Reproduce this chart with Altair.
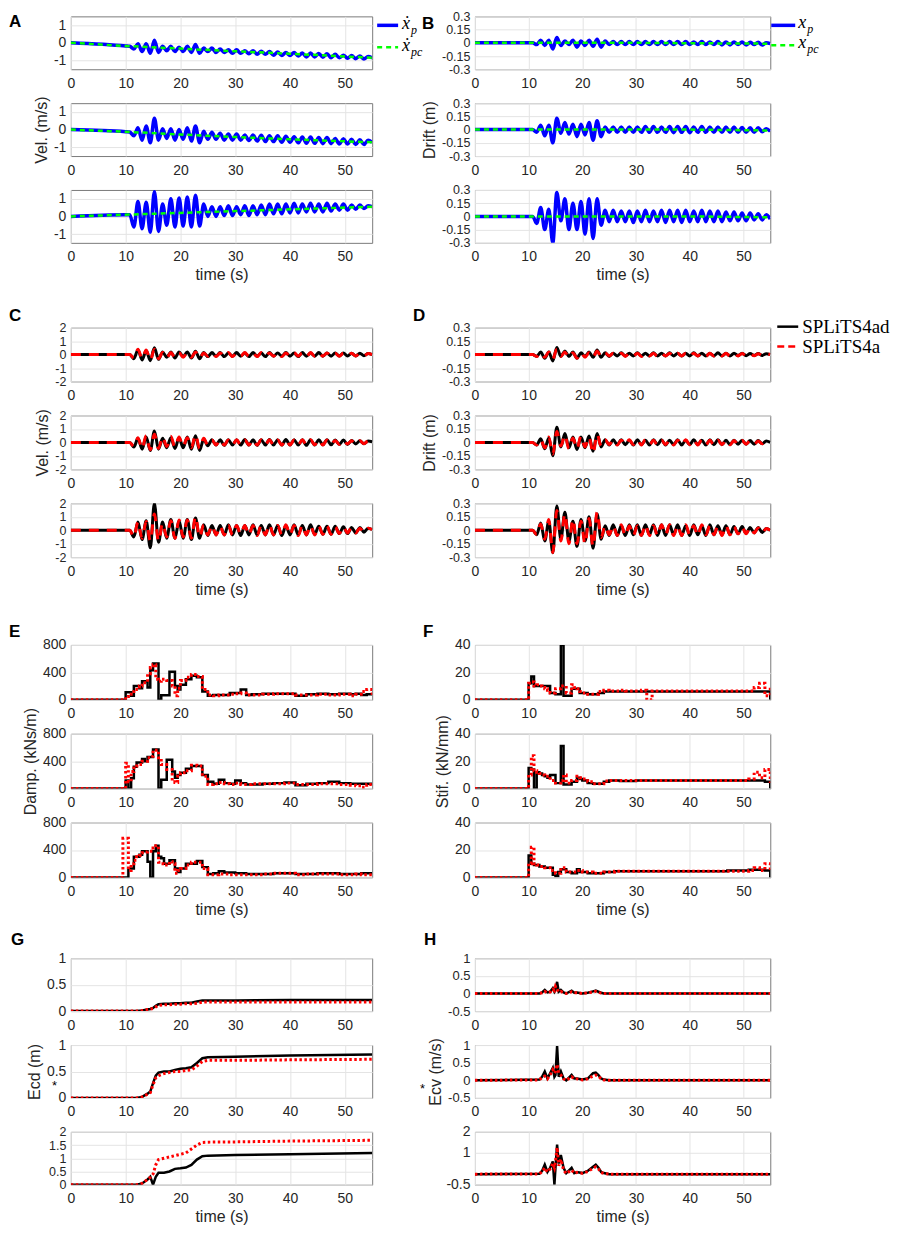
import altair as alt
import pandas as pd

# ---------------- time grids ----------------
t_osc = [0, 10, 10.75, 11.5, 12.25, 13.0, 13.75, 14.5, 15.25, 16.0, 16.75, 17.5,
         18.25, 19.0, 19.75, 20.5, 21.25, 22.0, 22.75, 23.5, 24.25, 25.0,
         25.75, 26.5, 27.25, 28.0, 28.75, 29.5, 30.25, 31.0, 31.75, 32.5,
         33.25, 34.0, 34.75, 35.5, 36.25, 37.0, 37.75, 38.5, 39.25, 40.0,
         40.75, 41.5, 42.25, 43.0, 43.75, 44.5, 45.25, 46.0, 46.75, 47.5,
         48.25, 49.0, 49.75, 50.5, 51.25, 52.0, 52.75, 53.5, 54.25, 55.0]
t_trend = [0, 10, 20, 30, 40, 55]
t_step = [0, 9.5, 10, 10.5, 11, 11.5, 12, 12.5, 13, 13.5, 14, 14.5, 15, 15.5, 16, 16.5,
          17, 17.5, 18, 18.5, 19, 19.5, 20, 21, 22, 23, 24, 25, 26, 27, 28, 29, 30, 31,
          32, 33, 35, 37, 39, 41, 43, 45, 47, 49, 51, 52, 53, 54, 55]
t_g = [0, 12, 13, 14, 14.5, 15, 15.5, 16, 17, 18, 19, 20, 21, 22, 23, 24, 25, 30, 40, 55]
t_h = [0, 12, 12.5, 13, 13.5, 14, 14.5, 14.8, 15, 15.3, 15.6, 16, 16.5, 17, 18, 18.5,
       19, 20, 21, 22, 22.5, 23, 23.5, 24, 25, 55]

x_ticks = [0, 10, 20, 30, 40, 50]

# ---------------- A: velocity (xp dot, xpc dot) ----------------
a1_xp = [0, -0.18,
         -0.2, -0.35, -0.05, -0.5, -0.05, -0.6, 0.15, -0.55, -0.2, -0.45,
         -0.2, -0.5, -0.25, -0.5, -0.2, -0.55, -0.1, -0.6, -0.3, -0.5,
         -0.3, -0.55, -0.35, -0.55, -0.4, -0.6, -0.4, -0.6, -0.45, -0.62,
         -0.45, -0.65, -0.48, -0.65, -0.5, -0.7, -0.52, -0.72, -0.55, -0.72,
         -0.55, -0.75, -0.58, -0.8, -0.58, -0.8, -0.6, -0.82, -0.62, -0.85,
         -0.65, -0.85, -0.7, -0.88, -0.72, -0.9, -0.75, -0.92, -0.78, -0.85]
a2_xp = [0, -0.12,
         -0.14, -0.35, 0.1, -0.6, 0.2, -0.75, 0.65, -0.6, 0.05, -0.5,
         0.05, -0.6, 0.0, -0.55, 0.1, -0.65, 0.2, -0.75, -0.1, -0.55,
         -0.15, -0.55, -0.2, -0.6, -0.25, -0.6, -0.25, -0.6, -0.3, -0.62,
         -0.3, -0.65, -0.32, -0.68, -0.35, -0.68, -0.35, -0.72, -0.38, -0.72,
         -0.4, -0.75, -0.42, -0.78, -0.42, -0.78, -0.45, -0.8, -0.45, -0.8,
         -0.5, -0.82, -0.52, -0.82, -0.55, -0.85, -0.58, -0.85, -0.6, -0.72]
a3_xp = [0, 0.1,
         0.1, -0.6, 0.85, -0.7, 0.8, -0.9, 1.4, -0.85, 0.7, -0.5,
         1.0, -0.6, 1.05, -0.55, 1.1, -0.6, 1.2, -0.55, 0.7, 0.0,
         0.55, 0.0, 0.55, 0.05, 0.6, 0.05, 0.55, 0.1, 0.6, 0.05,
         0.6, 0.1, 0.65, 0.1, 0.7, 0.15, 0.7, 0.15, 0.7, 0.2,
         0.75, 0.2, 0.7, 0.25, 0.75, 0.25, 0.7, 0.25, 0.75, 0.3,
         0.7, 0.35, 0.7, 0.35, 0.65, 0.4, 0.65, 0.45, 0.6, 0.55]
a1_xpc = [0, -0.18, -0.33, -0.48, -0.62, -0.85]
a2_xpc = [0, -0.12, -0.28, -0.42, -0.55, -0.72]
a3_xpc = [0, 0.1, 0.2, 0.3, 0.4, 0.55]

# ---------------- B: drift (xp, xpc) ----------------
b1_xp = [0, 0,
         0.0, -0.02, 0.03, -0.03, 0.03, -0.07, 0.06, -0.03, 0.02, -0.02,
         0.03, -0.05, 0.02, -0.03, 0.03, -0.04, 0.04, -0.05, 0.02, -0.02,
         0.015, -0.02, 0.015, -0.02, 0.015, -0.02, 0.015, -0.02, 0.015, -0.02,
         0.015, -0.02, 0.015, -0.02, 0.015, -0.02, 0.015, -0.02, 0.015, -0.02,
         0.01, -0.02, 0.015, -0.02, 0.01, -0.02, 0.015, -0.025, 0.01, -0.025,
         0.01, -0.02, 0.01, -0.025, 0.005, -0.02, 0.005, -0.025, 0.0, -0.01]
b2_xp = [0, 0,
         0.0, -0.03, 0.05, -0.07, 0.05, -0.15, 0.13, -0.04, 0.08, -0.05,
         0.06, -0.08, 0.06, -0.06, 0.08, -0.12, 0.1, -0.08, 0.03, -0.03,
         0.03, -0.03, 0.03, -0.03, 0.03, -0.03, 0.03, -0.03, 0.035, -0.03,
         0.035, -0.03, 0.03, -0.03, 0.035, -0.035, 0.035, -0.03, 0.035, -0.035,
         0.03, -0.03, 0.035, -0.03, 0.03, -0.03, 0.03, -0.03, 0.03, -0.03,
         0.03, -0.03, 0.025, -0.03, 0.02, -0.03, 0.02, -0.025, 0.01, -0.02]
b3_xp = [0, 0,
         0.0, -0.08, 0.1, -0.15, 0.08, -0.3, 0.27, -0.05, 0.2, -0.15,
         0.15, -0.15, 0.17, -0.2, 0.2, -0.25, 0.2, -0.1, 0.07, -0.06,
         0.07, -0.06, 0.06, -0.06, 0.06, -0.07, 0.06, -0.06, 0.07, -0.06,
         0.06, -0.06, 0.07, -0.07, 0.07, -0.06, 0.07, -0.07, 0.07, -0.06,
         0.06, -0.06, 0.07, -0.06, 0.06, -0.06, 0.06, -0.06, 0.05, -0.05,
         0.05, -0.05, 0.04, -0.05, 0.04, -0.04, 0.03, -0.04, 0.02, -0.03]
b1_xpc = [0, 0, 0, 0, -0.005, -0.01]
b2_xpc = [0, 0, 0, 0, 0, -0.01]
b3_xpc = [0, 0, 0, 0, 0, -0.01]

# ---------------- C: velocity (SPLiTS4ad, SPLiTS4a) ----------------
c1_ad = [0, 0,
         0.0, -0.3, 0.35, -0.4, 0.3, -0.45, 0.5, -0.35, 0.2, -0.2,
         0.2, -0.25, 0.2, -0.15, 0.2, -0.25, 0.25, -0.3, 0.15, -0.15,
         0.15, -0.12, 0.15, -0.15, 0.12, -0.12, 0.15, -0.12, 0.12, -0.15,
         0.15, -0.12, 0.12, -0.15, 0.15, -0.12, 0.12, -0.12, 0.15, -0.12,
         0.12, -0.15, 0.15, -0.12, 0.12, -0.12, 0.15, -0.12, 0.12, -0.12,
         0.12, -0.1, 0.12, -0.1, 0.1, -0.1, 0.1, -0.08, 0.08, 0.0]
c1_a = [0, 0,
        0.0, -0.25, 0.4, -0.3, 0.35, -0.4, 0.4, -0.3, 0.15, -0.25,
        0.15, -0.2, 0.15, -0.2, 0.15, -0.2, 0.2, -0.25, 0.12, -0.12,
        0.12, -0.15, 0.12, -0.12, 0.15, -0.15, 0.12, -0.12, 0.15, -0.12,
        0.12, -0.15, 0.15, -0.12, 0.12, -0.12, 0.15, -0.15, 0.12, -0.12,
        0.15, -0.12, 0.12, -0.15, 0.15, -0.12, 0.12, -0.12, 0.12, -0.12,
        0.1, -0.12, 0.1, -0.1, 0.1, -0.1, 0.08, -0.1, 0.08, 0.0]
c2_ad = [0, 0,
         0.0, -0.35, 0.3, -0.5, 0.4, -0.6, 0.85, -0.5, 0.3, -0.4,
         0.35, -0.45, 0.35, -0.4, 0.4, -0.5, 0.5, -0.6, 0.25, -0.25,
         0.2, -0.2, 0.2, -0.22, 0.2, -0.2, 0.2, -0.2, 0.22, -0.2,
         0.2, -0.22, 0.2, -0.2, 0.22, -0.2, 0.2, -0.2, 0.22, -0.2,
         0.2, -0.2, 0.2, -0.22, 0.2, -0.2, 0.2, -0.18, 0.2, -0.18,
         0.18, -0.15, 0.18, -0.15, 0.15, -0.12, 0.12, -0.1, 0.1, 0.05]
c2_a = [0, 0,
        0.0, -0.3, 0.35, -0.45, 0.5, -0.55, 0.6, -0.45, 0.4, -0.3,
        0.45, -0.35, 0.4, -0.3, 0.35, -0.4, 0.55, -0.45, 0.3, -0.2,
        0.18, -0.2, 0.2, -0.2, 0.18, -0.2, 0.2, -0.18, 0.2, -0.2,
        0.18, -0.2, 0.2, -0.18, 0.2, -0.2, 0.18, -0.2, 0.2, -0.2,
        0.18, -0.2, 0.2, -0.18, 0.2, -0.18, 0.18, -0.2, 0.18, -0.15,
        0.15, -0.15, 0.15, -0.12, 0.12, -0.12, 0.12, -0.1, 0.1, 0.05]
c3_ad = [0, 0,
         0.0, -0.5, 0.6, -0.7, 0.7, -1.3, 2.0, -0.9, 0.6, -0.6,
         0.8, -0.6, 0.7, -0.6, 0.8, -0.7, 0.9, -0.6, 0.4, -0.4,
         0.35, -0.35, 0.35, -0.35, 0.4, -0.35, 0.35, -0.4, 0.35, -0.35,
         0.4, -0.35, 0.35, -0.35, 0.4, -0.35, 0.35, -0.4, 0.35, -0.35,
         0.4, -0.35, 0.35, -0.35, 0.4, -0.3, 0.3, -0.3, 0.3, -0.3,
         0.3, -0.25, 0.25, -0.25, 0.2, -0.2, 0.2, -0.15, 0.15, 0.05]
c3_a = [0, 0,
        0.0, -0.5, 0.6, -0.6, 0.65, -0.8, 1.2, -0.8, 0.5, -0.5,
        0.7, -0.6, 0.75, -0.5, 0.75, -0.6, 1.0, -0.5, 0.4, -0.35,
        0.35, -0.35, 0.3, -0.35, 0.35, -0.35, 0.35, -0.3, 0.35, -0.35,
        0.35, -0.4, 0.35, -0.35, 0.4, -0.35, 0.35, -0.35, 0.4, -0.35,
        0.35, -0.4, 0.35, -0.35, 0.35, -0.35, 0.3, -0.3, 0.3, -0.3,
        0.25, -0.25, 0.25, -0.2, 0.2, -0.2, 0.15, -0.15, 0.15, 0.05]

# ---------------- D: drift (SPLiTS4ad, SPLiTS4a) ----------------
d1_ad = [0, 0,
         0.0, -0.02, 0.03, -0.04, 0.03, -0.07, 0.08, -0.02, 0.04, -0.02,
         0.03, -0.04, 0.02, -0.02, 0.03, -0.03, 0.05, -0.03, 0.02, -0.02,
         0.015, -0.015, 0.02, -0.015, 0.015, -0.015, 0.02, -0.015, 0.015, -0.015,
         0.02, -0.015, 0.015, -0.015, 0.02, -0.015, 0.015, -0.015, 0.015, -0.015,
         0.02, -0.015, 0.015, -0.015, 0.015, -0.015, 0.02, -0.015, 0.015, -0.015,
         0.015, -0.012, 0.015, -0.012, 0.012, -0.01, 0.012, -0.01, 0.01, 0.0]
d1_a = [0, 0,
        0.0, -0.02, 0.02, -0.03, 0.03, -0.05, 0.06, -0.02, 0.03, -0.03,
        0.02, -0.04, 0.02, -0.03, 0.02, -0.03, 0.04, -0.02, 0.02, -0.015,
        0.015, -0.015, 0.015, -0.02, 0.015, -0.015, 0.015, -0.02, 0.015, -0.015,
        0.015, -0.02, 0.015, -0.015, 0.015, -0.02, 0.015, -0.015, 0.015, -0.02,
        0.015, -0.015, 0.015, -0.02, 0.015, -0.015, 0.015, -0.015, 0.015, -0.015,
        0.012, -0.015, 0.012, -0.012, 0.01, -0.012, 0.01, -0.01, 0.01, 0.0]
d2_ad = [0, 0,
         0.0, -0.03, 0.04, -0.07, 0.05, -0.15, 0.17, -0.05, 0.1, -0.06,
         0.06, -0.08, 0.06, -0.06, 0.07, -0.1, 0.1, -0.05, 0.03, -0.03,
         0.03, -0.025, 0.03, -0.025, 0.025, -0.03, 0.03, -0.025, 0.025, -0.03,
         0.03, -0.025, 0.03, -0.03, 0.025, -0.025, 0.03, -0.03, 0.025, -0.025,
         0.03, -0.025, 0.025, -0.03, 0.03, -0.025, 0.03, -0.025, 0.025, -0.025,
         0.025, -0.02, 0.025, -0.02, 0.02, -0.02, 0.02, -0.015, 0.015, 0.0]
d2_a = [0, 0,
        0.0, -0.03, 0.03, -0.06, 0.06, -0.13, 0.12, -0.04, 0.08, -0.07,
        0.05, -0.07, 0.07, -0.05, 0.06, -0.12, 0.09, -0.04, 0.03, -0.025,
        0.025, -0.03, 0.025, -0.025, 0.03, -0.025, 0.025, -0.03, 0.03, -0.025,
        0.025, -0.03, 0.025, -0.025, 0.03, -0.03, 0.025, -0.025, 0.03, -0.025,
        0.025, -0.03, 0.03, -0.025, 0.025, -0.03, 0.025, -0.025, 0.025, -0.025,
        0.02, -0.025, 0.02, -0.02, 0.02, -0.02, 0.015, -0.015, 0.015, 0.0]
d3_ad = [0, 0,
         0.0, -0.05, 0.08, -0.12, 0.1, -0.25, 0.27, -0.1, 0.2, -0.12,
         0.1, -0.18, 0.12, -0.12, 0.15, -0.2, 0.18, -0.1, 0.05, -0.06,
         0.06, -0.06, 0.05, -0.06, 0.06, -0.05, 0.06, -0.06, 0.06, -0.05,
         0.06, -0.06, 0.06, -0.06, 0.06, -0.05, 0.06, -0.06, 0.05, -0.06,
         0.06, -0.05, 0.05, -0.06, 0.06, -0.05, 0.05, -0.05, 0.05, -0.05,
         0.04, -0.04, 0.04, -0.035, 0.03, -0.03, 0.03, -0.025, 0.02, 0.0]
d3_a = [0, 0,
        0.0, -0.05, 0.07, -0.1, 0.12, -0.25, 0.22, -0.12, 0.18, -0.15,
        0.12, -0.15, 0.1, -0.15, 0.13, -0.18, 0.2, -0.08, 0.05, -0.05,
        0.05, -0.06, 0.06, -0.06, 0.05, -0.06, 0.05, -0.06, 0.06, -0.06,
        0.05, -0.06, 0.06, -0.05, 0.06, -0.06, 0.05, -0.06, 0.06, -0.05,
        0.05, -0.06, 0.06, -0.05, 0.05, -0.05, 0.05, -0.06, 0.05, -0.05,
        0.04, -0.04, 0.035, -0.04, 0.03, -0.03, 0.025, -0.03, 0.02, 0.0]

# ---------------- E: damping (step) ----------------
e1_ad = [0, 0, 110, 110, 60, 200, 200, 170, 270, 270,
         180, 430, 530, 530, 0, 65, 65, 65, 410, 410,
         200, 150, 220, 300, 350, 330, 120, 60, 70, 70,
         70, 100, 100, 150, 70, 80, 90, 90, 90, 60,
         80, 90, 80, 90, 80, 90, 70, 80, 80]
e1_a = [0, 0, 50, 80, 120, 150, 150, 200, 250, 250,
        380, 470, 510, 300, 270, 300, 300, 280, 280, 200,
        60, 170, 280, 330, 370, 340, 150, 70, 60, 70,
        70, 80, 90, 100, 70, 70, 80, 90, 90, 70,
        70, 80, 70, 80, 60, 80, 120, 150, 60]
e2_ad = [0, 0, 120, 0, 150, 320, 380, 380, 430, 400,
         460, 460, 570, 570, 0, 130, 130, 420, 420, 250,
         160, 200, 230, 290, 330, 330, 200, 100, 70, 130,
         80, 70, 120, 80, 60, 60, 70, 80, 90, 50,
         70, 80, 100, 80, 70, 70, 70, 70, 70]
e2_a = [0, 0, 370, 100, 250, 300, 330, 350, 400, 400,
        450, 470, 560, 560, 450, 350, 350, 280, 280, 100,
        90, 180, 230, 260, 340, 330, 180, 60, 70, 90,
        70, 60, 80, 60, 60, 70, 70, 70, 80, 60,
        60, 70, 70, 60, 50, 40, 20, 60, 60]
e3_ad = [0, 0, 0, 130, 130, 300, 300, 330, 380, 380,
         230, 0, 380, 460, 300, 280, 200, 200, 250, 250,
         130, 80, 130, 200, 200, 240, 150, 50, 60, 90,
         70, 70, 60, 60, 50, 50, 50, 60, 60, 50,
         50, 60, 60, 50, 50, 50, 60, 60, 60]
e3_a = [0, 570, 570, 100, 200, 250, 300, 320, 360, 370,
        380, 380, 430, 460, 220, 200, 180, 180, 230, 200,
        60, 100, 130, 180, 220, 220, 130, 40, 40, 50,
        50, 40, 40, 40, 40, 40, 50, 60, 60, 40,
        50, 50, 50, 40, 40, 50, 40, 40, 40]

# ---------------- F: stiffness (step) ----------------
f1_ad = [0, 0, 12, 17, 10, 10, 10, 10, 10, 10,
         5, 5, 4, 4, 40, 3, 3, 3, 8, 8,
         8, 5, 5, 4, 4, 5, 6, 6, 6, 6,
         6, 6, 6, 6, 6, 6, 6, 6, 6, 6,
         6, 6, 6, 6, 6, 6, 6, 6, 0]
f1_a = [0, 0, 12, 13, 10, 11, 10, 9, 8, 7,
        5, 5, 8, 8, 10, 10, 5, 5, 11, 9,
        8, 6, 5, 4, 4, 6, 7, 6.5, 6.5, 7,
        6.5, 6.5, 6.5, 7, 0, 6.5, 6.5, 6.5, 6.5, 6.5,
        6.5, 6.5, 6.5, 6.5, 6.5, 9, 12, 3, 10]
f2_ad = [0, 0, 15, 14, 0, 12, 11, 10, 9, 8,
         10, 10, 4, 4, 31, 3, 3, 3, 5, 5,
         8, 7, 6, 4, 3.5, 3.5, 5, 6, 6, 5.5,
         5.5, 5.5, 6, 6, 6, 6, 6, 6, 6, 6,
         6, 6, 6, 6, 6, 6, 6, 5, 0]
f2_a = [0, 0, 10, 24, 13, 12, 11, 10, 9, 9,
        6, 6, 4, 4, 6, 10, 4, 4, 6, 6,
        9, 8, 7, 5, 3.5, 3.5, 5.5, 6, 6, 6,
        6, 6, 6, 6, 6, 6, 6, 6, 6, 6,
        6, 6, 6, 6, 7, 12, 8, 14, 4]
f3_ad = [0, 0, 16, 10, 9, 9, 8, 8, 7, 7,
         7, 2, 1, 4, 6, 6, 4, 4, 3, 3,
         6, 4, 4, 3, 3, 3, 4, 4, 4.5, 4.5,
         4.5, 4.5, 4.5, 4.5, 4.5, 4.5, 4.5, 4.5, 4.5, 4.5,
         4.5, 4.5, 5, 5, 5.5, 5.5, 5.5, 5, 0]
f3_a = [0, 0, 10, 22, 10, 9, 8, 8, 7, 7,
        5, 5, 3, 3, 7, 7, 4, 4, 4, 4,
        5, 5, 4, 4, 3, 3, 4, 4, 4.5, 4.5,
        4.5, 4.5, 4.5, 4.5, 4.5, 4.5, 4.5, 4.5, 4.5, 4.5,
        4.5, 4.5, 4.5, 4.5, 5, 7, 5, 10, 4]

# ---------------- G: E*cd (m) ----------------
g1_ad = [0, 0, 0.01, 0.03, 0.04, 0.06, 0.1, 0.13, 0.14, 0.14, 0.15, 0.15, 0.16, 0.16, 0.18, 0.2, 0.2, 0.2, 0.21, 0.21]
g1_a = [0, 0, 0.01, 0.03, 0.04, 0.05, 0.08, 0.11, 0.12, 0.12, 0.13, 0.13, 0.14, 0.14, 0.15, 0.17, 0.17, 0.17, 0.17, 0.17]
g2_ad = [0, 0, 0.02, 0.08, 0.12, 0.28, 0.42, 0.48, 0.5, 0.5, 0.53, 0.55, 0.56, 0.58, 0.66, 0.75, 0.77, 0.78, 0.8, 0.82]
g2_a = [0, 0, 0.02, 0.07, 0.1, 0.25, 0.38, 0.42, 0.46, 0.48, 0.5, 0.5, 0.52, 0.53, 0.6, 0.69, 0.71, 0.71, 0.72, 0.73]
g3_ad = [0, 0, 0.05, 0.2, 0.3, 0.0, 0.3, 0.45, 0.45, 0.5, 0.6, 0.62, 0.65, 0.75, 0.95, 1.08, 1.1, 1.12, 1.15, 1.2]
g3_a = [0, 0, 0.05, 0.2, 0.28, 0.4, 0.75, 0.95, 1.0, 1.05, 1.1, 1.15, 1.2, 1.35, 1.5, 1.6, 1.61, 1.62, 1.65, 1.68]

# ---------------- H: E*cv (m/s) ----------------
h1_ad = [0, 0, 0.03, 0.1, 0.03, 0.05, 0.15, 0.05, 0.1, 0.33, 0.05, 0.1, 0.03, 0.0, 0.08, 0.02, 0.03, 0.0, 0.02, 0.06, 0.08, 0.05, 0.02, 0.0, 0.0, 0.0]
h1_a = [0, 0, 0.02, 0.06, 0.02, 0.04, 0.12, 0.08, 0.2, 0.12, 0.04, 0.06, 0.02, 0.0, 0.05, 0.02, 0.02, 0.0, 0.02, 0.04, 0.06, 0.04, 0.01, 0.0, 0.0, 0.0]
h2_ad = [0, 0.02, 0.1, 0.25, 0.05, 0.2, 0.35, 0.1, 0.15, 0.97, 0.1, 0.25, 0.05, 0.0, 0.15, 0.05, 0.05, 0.02, 0.05, 0.2, 0.22, 0.15, 0.05, 0.02, 0.0, 0.0]
h2_a = [0, 0.01, 0.08, 0.12, 0.04, 0.15, 0.3, 0.2, 0.25, 0.45, 0.2, 0.15, 0.04, 0.0, 0.1, 0.04, 0.04, 0.01, 0.04, 0.12, 0.15, 0.12, 0.04, 0.01, 0.0, 0.0]
h3_ad = [0, 0.02, 0.15, 0.45, 0.1, 0.3, 0.6, -0.5, 0.3, 1.4, 0.5, 0.9, 0.3, 0.05, 0.3, 0.05, 0.1, 0.05, 0.15, 0.35, 0.45, 0.3, 0.1, 0.05, 0.0, 0.0]
h3_a = [0, 0.01, 0.12, 0.3, 0.1, 0.25, 0.5, 0.3, 0.6, 1.25, 0.4, 0.7, 0.2, 0.03, 0.2, 0.05, 0.08, 0.04, 0.12, 0.28, 0.35, 0.25, 0.08, 0.03, 0.0, 0.0]

# ---------------- styles ----------------
BLUE = dict(color="#0000ff", strokeWidth=3.5, interpolate="monotone")
GREEN = dict(color="#00ff00", strokeWidth=2.5, strokeDash=[5, 4])
BLK_O = dict(color="#000000", strokeWidth=3, interpolate="monotone")
RED_O = dict(color="#ff0000", strokeWidth=3, strokeDash=[10, 8], interpolate="monotone")
BLK_S = dict(color="#000000", strokeWidth=2.5, interpolate="step-after")
RED_S = dict(color="#ff0000", strokeWidth=3, strokeDash=[2.5, 2.5], interpolate="step-after")
BLK_L = dict(color="#000000", strokeWidth=2.5)
RED_L = dict(color="#ff0000", strokeWidth=3, strokeDash=[2.5, 2.5])

SANS = "Liberation Sans"
NARROW = "Liberation Sans Narrow, Liberation Sans"
SERIF = "Liberation Serif"
YLAB = "datum.value < 0 ? '-' + format(-datum.value, '~g') : format(datum.value, '~g')"

WL, WR = 302, 296
ONE = pd.DataFrame({"k": [0]})


def label(txt, x, y, size=17, bold=True, font=SANS, italic=False):
    return alt.Chart(ONE).mark_text(
        text=txt, align="left", baseline="middle", fontSize=size,
        fontWeight="bold" if bold else "normal", font=font, color="black",
        fontStyle="italic" if italic else "normal",
    ).encode(x=alt.value(x), y=alt.value(y))


def leg_rule(x1, x2, y, style):
    kw = dict(color=style["color"], strokeWidth=style["strokeWidth"])
    if "strokeDash" in style:
        kw["strokeDash"] = style["strokeDash"]
    return alt.Chart(ONE).mark_rule(**kw).encode(
        x=alt.value(x1), x2=alt.value(x2), y=alt.value(y))


def sub(lines, ydom, yticks, w, h, xtitle=False, ytitle="", extras=(), font=SANS, ysize=14):
    xenc = alt.X("t:Q", scale=alt.Scale(domain=[0, 55], nice=False, zero=False),
                 axis=alt.Axis(values=x_ticks, title="time (s)" if xtitle else "",
                               labelFont=font, titleFont=font))
    yenc = alt.Y("v:Q", scale=alt.Scale(domain=ydom, nice=False, zero=False),
                 axis=alt.Axis(values=yticks, title=ytitle, labelExpr=YLAB,
                               labelFont=font, titleFont=font, labelFontSize=ysize))
    layers = []
    for t, vals, style in lines:
        layers.append(alt.Chart(pd.DataFrame({"t": t, "v": vals}))
                      .mark_line(clip=True, **style).encode(x=xenc, y=yenc))
    layers.extend(extras)
    return alt.layer(*layers).properties(width=w, height=h)


def spacer(w, h):
    return alt.Chart(ONE).mark_point(opacity=0).encode(
        x=alt.value(0), y=alt.value(0)).properties(
        width=w, height=h, view=alt.ViewBackground(stroke="transparent"))


HA, HC, HE, HG = 53, 54, 55, 53
VT = [-1, 0, 1]
DT = [-0.3, -0.15, 0, 0.15, 0.3]
CT = [-2, -1, 0, 1, 2]
DS = 12.5  # label size for dense y axes

legA = [leg_rule(WL + 5, WL + 26, 9, BLUE), label("ẋ", WL + 30, 8, 18, False, SERIF, True),
        label("p", WL + 39, 14, 12, False, SERIF, True),
        leg_rule(WL + 5, WL + 26, 31, GREEN), label("ẋ", WL + 30, 30, 18, False, SERIF, True),
        label("pc", WL + 39, 36, 12, False, SERIF, True)]
legB = [leg_rule(WR + 1, WR + 25, 9, BLUE), label("x", WR + 28, 7, 18, False, SERIF, True),
        label("p", WR + 37, 13, 12, False, SERIF, True),
        leg_rule(WR + 1, WR + 25, 29, GREEN), label("x", WR + 28, 27, 18, False, SERIF, True),
        label("pc", WR + 37, 33, 12, False, SERIF, True)]
legD = [leg_rule(WR + 7, WR + 28, -1, dict(color="#000000", strokeWidth=2.5)),
        label("SPLiTS4ad", WR + 32, -1, 19, False, SERIF),
        leg_rule(WR + 7, WR + 28, 19, dict(color="#ff0000", strokeWidth=2.5, strokeDash=[7, 4])),
        label("SPLiTS4a", WR + 32, 19, 19, False, SERIF)]

cells = [
    sub([(t_osc, a1_xp, BLUE), (t_trend, a1_xpc, GREEN)], [-1.5, 1.5], VT, WL, HA,
        extras=[label("A", -62, 6)] + legA),
    sub([(t_osc, b1_xp, BLUE), (t_trend, b1_xpc, GREEN)], [-0.3, 0.3], DT, WR, HA,
        extras=[label("B", -53, 8)] + legB, ysize=DS),
    sub([(t_osc, a2_xp, BLUE), (t_trend, a2_xpc, GREEN)], [-1.5, 1.5], VT, WL, HA, ytitle="Vel. (m/s)"),
    sub([(t_osc, b2_xp, BLUE), (t_trend, b2_xpc, GREEN)], [-0.3, 0.3], DT, WR, HA, ytitle="Drift (m)",
        ysize=DS),
    sub([(t_osc, a3_xp, BLUE), (t_trend, a3_xpc, GREEN)], [-1.5, 1.5], VT, WL, HA, xtitle=True),
    sub([(t_osc, b3_xp, BLUE), (t_trend, b3_xpc, GREEN)], [-0.3, 0.3], DT, WR, HA, xtitle=True,
        ysize=DS),
    spacer(WL, 17), spacer(WR, 17),
    sub([(t_osc, c1_ad, BLK_O), (t_osc, c1_a, RED_O)], [-2, 2], CT, WL, HC,
        extras=[label("C", -62, -12)], ysize=DS),
    sub([(t_osc, d1_ad, BLK_O), (t_osc, d1_a, RED_O)], [-0.3, 0.3], DT, WR, HC,
        extras=[label("D", -62, -12)] + legD, ysize=DS),
    sub([(t_osc, c2_ad, BLK_O), (t_osc, c2_a, RED_O)], [-2, 2], CT, WL, HC, ytitle="Vel. (m/s)",
        ysize=DS),
    sub([(t_osc, d2_ad, BLK_O), (t_osc, d2_a, RED_O)], [-0.3, 0.3], DT, WR, HC, ytitle="Drift (m)",
        ysize=DS),
    sub([(t_osc, c3_ad, BLK_O), (t_osc, c3_a, RED_O)], [-2, 2], CT, WL, HC, xtitle=True, ysize=DS),
    sub([(t_osc, d3_ad, BLK_O), (t_osc, d3_a, RED_O)], [-0.3, 0.3], DT, WR, HC, xtitle=True,
        ysize=DS),
    spacer(WL, 20), spacer(WR, 20),
    sub([(t_step, e1_ad, BLK_S), (t_step, e1_a, RED_S)], [0, 800], [0, 400, 800], WL, HE,
        extras=[label("E", -62, -13)]),
    sub([(t_step, f1_ad, BLK_S), (t_step, f1_a, RED_S)], [0, 40], [0, 20, 40], WR, HE,
        extras=[label("F", -52, -13)]),
    sub([(t_step, e2_ad, BLK_S), (t_step, e2_a, RED_S)], [0, 800], [0, 400, 800], WL, HE,
        ytitle="Damp. (kNs/m)"),
    sub([(t_step, f2_ad, BLK_S), (t_step, f2_a, RED_S)], [0, 40], [0, 20, 40], WR, HE,
        ytitle="Stif. (kN/mm)"),
    sub([(t_step, e3_ad, BLK_S), (t_step, e3_a, RED_S)], [0, 800], [0, 400, 800], WL, HE, xtitle=True),
    sub([(t_step, f3_ad, BLK_S), (t_step, f3_a, RED_S)], [0, 40], [0, 20, 40], WR, HE, xtitle=True),
    spacer(WL, 13), spacer(WR, 13),
    sub([(t_g, g1_ad, BLK_L), (t_g, g1_a, RED_L)], [0, 1], [0, 0.5, 1], WL, HG,
        extras=[label("G", -60, -18)], font=NARROW),
    sub([(t_h, h1_ad, BLK_L), (t_h, h1_a, RED_L)], [-0.5, 1], [-0.5, 0, 0.5, 1], WR, HG,
        extras=[label("H", -51, -18)], font=NARROW, ysize=13),
    sub([(t_g, g2_ad, BLK_L), (t_g, g2_a, RED_L)], [0, 1], [0, 0.5, 1], WL, HG,
        ytitle="Ecd (m)", extras=[label("*", -19, 41, 13, False, NARROW)], font=NARROW),
    sub([(t_h, h2_ad, BLK_L), (t_h, h2_a, RED_L)], [-0.5, 1], [-0.5, 0, 0.5, 1], WR, HG,
        ytitle="Ecv (m/s)", extras=[label("*", -55, 44, 13, False, NARROW)], font=NARROW, ysize=13),
    sub([(t_g, g3_ad, BLK_L), (t_g, g3_a, RED_L)], [0, 2], [0, 0.5, 1, 1.5, 2], WL, HG,
        xtitle=True, font=NARROW, ysize=12.5),
    sub([(t_h, h3_ad, BLK_L), (t_h, h3_a, RED_L)], [-0.5, 2], [-0.5, 1, 2], WR, HG,
        xtitle=True, font=NARROW),
]

chart = (
    alt.concat(*cells, columns=2, spacing={"row": 34, "column": 103}, bounds="flush")
    .properties(padding={"left": 0, "top": 0, "right": 0, "bottom": 0})
    .configure_view(stroke="#7a7a7a", strokeWidth=1)
    .configure_axis(grid=True, gridColor="#e4e4e4", gridWidth=1, domain=False, ticks=False,
                    labelColor="#262626", labelFontSize=14, titleFontSize=16,
                    titleFontWeight="normal", titleColor="#262626",
                    labelFlush=False, labelOverlap=False, labelBound=False)
    .configure_axisX(labelPadding=7, titlePadding=3)
    .configure_axisY(labelPadding=5, titlePadding=4)
)

chart.save("out.html", embed_options={"renderer": "svg", "actions": False})
